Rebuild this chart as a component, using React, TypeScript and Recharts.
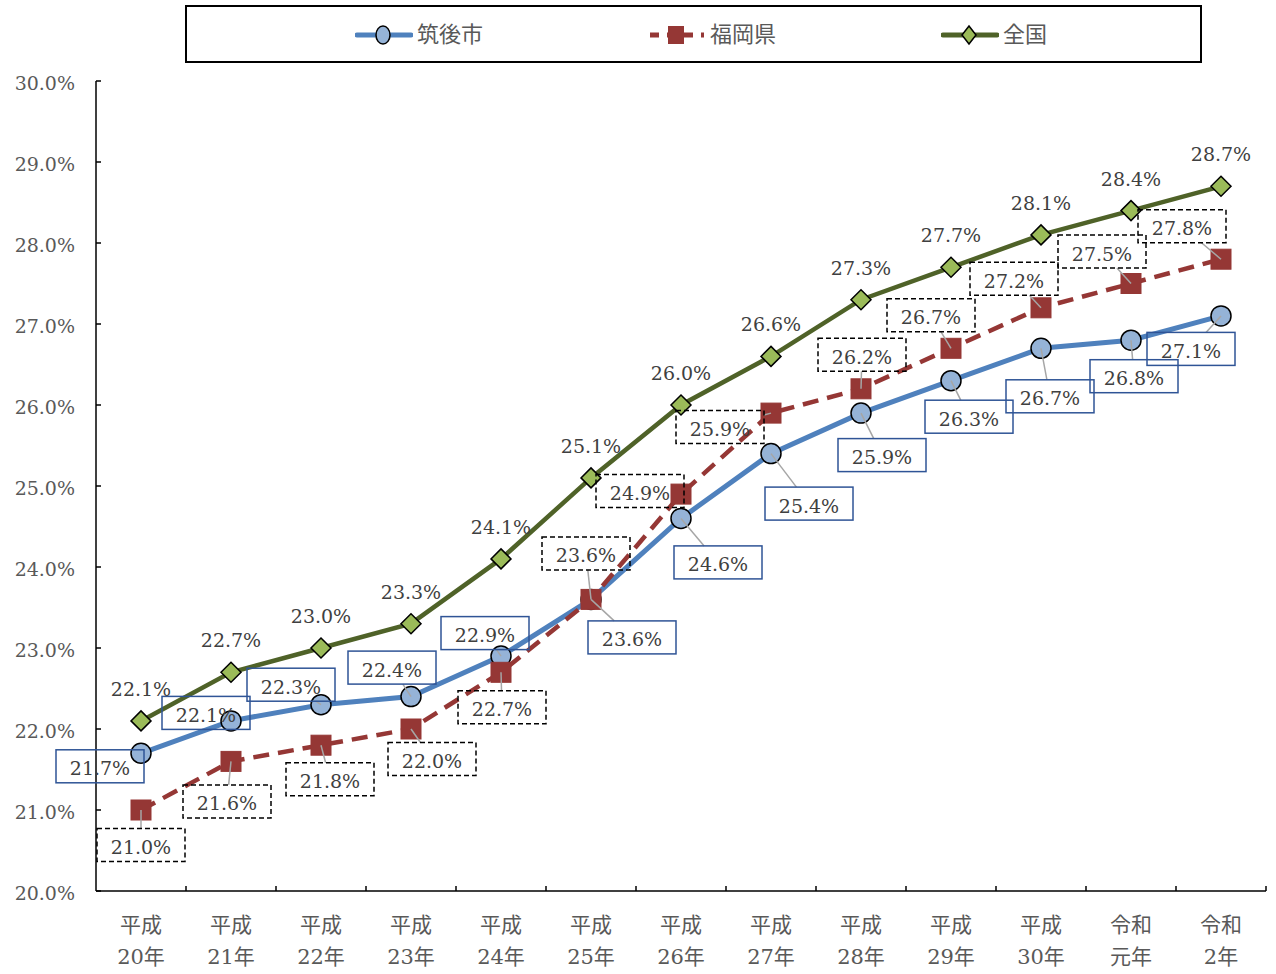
import { LabelList, Line, LineChart, XAxis, YAxis } from "recharts";

// 高齢化率の推移（筑後市・福岡県・全国）
const categories = [
  "平成20年", "平成21年", "平成22年", "平成23年", "平成24年", "平成25年", "平成26年",
  "平成27年", "平成28年", "平成29年", "平成30年", "令和元年", "令和2年",
];
const chikugoValues = [21.7, 22.1, 22.3, 22.4, 22.9, 23.6, 24.6, 25.4, 25.9, 26.3, 26.7, 26.8, 27.1];
const fukuokaValues = [21.0, 21.6, 21.8, 22.0, 22.7, 23.6, 24.9, 25.9, 26.2, 26.7, 27.2, 27.5, 27.8];
const nationalValues = [22.1, 22.7, 23.0, 23.3, 24.1, 25.1, 26.0, 26.6, 27.3, 27.7, 28.1, 28.4, 28.7];
const yTicks = [20, 21, 22, 23, 24, 25, 26, 27, 28, 29, 30];

const series = [
  { key: "chikugo", name: "筑後市", color: "#4f81bd" },
  { key: "fukuoka", name: "福岡県", color: "#953735" },
  { key: "national", name: "全国", color: "#4f6228" },
];

// where each data label box sits, relative to its point (Excel let these be dragged around)
const chikugoLabelOffsets = [
  [-41, 13], [-25, -8], [-30, -20], [-19, -29], [-16, -23], [41, 38], [37, 44],
  [38, 50], [21, 42], [18, 36], [9, 48], [3, 36], [-30, 33],
];
const fukuokaLabelOffsets = [
  [0, 35], [-4, 40], [9, 34], [21, 30], [1, 35], [-5, -46], [-41, -3],
  [-51, 14], [1, -34], [-20, -33], [-27, -29], [-29, -32], [-39, -33],
];

const data = categories.map((category, i) => ({
  category,
  chikugo: chikugoValues[i],
  fukuoka: fukuokaValues[i],
  national: nationalValues[i],
}));

const WIDTH = 1276;
const HEIGHT = 974;
const Y_AXIS_W = 96;
const RIGHT = 10;
const BAND = (WIDTH - Y_AXIS_W - RIGHT) / categories.length;
const FONT = '"DejaVu Serif", "Liberation Serif", "Noto Sans CJK JP", serif';
const LABEL_COLOR = "#404040";
const TICK_COLOR = "#595959";
const BOX_W = 88;
const BOX_H = 33;

const pct = (v: number) => `${v.toFixed(1)}%`;

function YTick({ x, y, payload }: any) {
  return (
    <g>
      <line x1={x} x2={x + 5} y1={y} y2={y} stroke="#000" strokeWidth={1.5} />
      <text
        x={x - 21}
        y={y + 2}
        textAnchor="end"
        dominantBaseline="central"
        fontSize={19}
        fontFamily={FONT}
        fill={TICK_COLOR}
      >
        {pct(payload.value)}
      </text>
    </g>
  );
}

function XTick({ x, y, payload }: any) {
  const label = String(payload.value);
  const edge = x + BAND / 2;
  return (
    <g>
      <line x1={edge} x2={edge} y1={y} y2={y - 5} stroke="#000" strokeWidth={1.5} />
      <text x={x} y={y + 34} textAnchor="middle" dominantBaseline="central" fontSize={21} fontFamily={FONT} fill={TICK_COLOR}>
        {label.slice(0, 2)}
      </text>
      <text x={x} y={y + 66} textAnchor="middle" dominantBaseline="central" fontSize={21} fontFamily={FONT} fill={TICK_COLOR}>
        {label.slice(2)}
      </text>
    </g>
  );
}

function SquareDot({ cx, cy, index }: any) {
  return <rect key={index} x={cx - 10} y={cy - 10} width={20} height={20} fill="#953735" stroke="#953735" strokeWidth={1} />;
}

function DiamondDot({ cx, cy, index }: any) {
  const r = 10;
  return (
    <polygon
      key={index}
      points={`${cx},${cy - r} ${cx + r},${cy} ${cx},${cy + r} ${cx - r},${cy}`}
      fill="#9bbb59"
      stroke="#000"
      strokeWidth={1.5}
    />
  );
}

// boxed label with a grey leader line back to its point when it has been pulled away
function BoxLabel({ x, y, value, index, offsets, dashed }: any) {
  const [dx, dy] = offsets[index];
  const cx = x + dx;
  const cy = y + dy;
  const hw = BOX_W / 2;
  const hh = BOX_H / 2;
  let leader = null;
  if (Math.abs(dx) > hw || Math.abs(dy) > hh) {
    const s = Math.min(Math.abs(dx) > 0 ? hw / Math.abs(dx) : Infinity, Math.abs(dy) > 0 ? hh / Math.abs(dy) : Infinity);
    leader = <line x1={cx - dx * s} y1={cy - dy * s} x2={x} y2={y} stroke="#a6a6a6" strokeWidth={1.5} />;
  }
  return (
    <g>
      {leader}
      <rect
        x={cx - hw}
        y={cy - hh}
        width={BOX_W}
        height={BOX_H}
        fill="none"
        stroke={dashed ? "#000" : "#2f5496"}
        strokeWidth={1.5}
        strokeDasharray={dashed ? "5 3" : undefined}
      />
      <text x={cx} y={cy + 2} textAnchor="middle" dominantBaseline="central" fontSize={19} fontFamily={FONT} fill={LABEL_COLOR}>
        {pct(value)}
      </text>
    </g>
  );
}

function PlainLabel({ x, y, value }: any) {
  return (
    <text x={x} y={y - 32} textAnchor="middle" dominantBaseline="central" fontSize={19} fontFamily={FONT} fill={LABEL_COLOR}>
      {pct(value)}
    </text>
  );
}

function LegendMarker({ kind, color }: { kind: string; color: string }) {
  return (
    <svg width={58} height={24} style={{ display: "block" }}>
      {kind === "fukuoka" ? (
        <line x1={2} x2={56} y1={12} y2={12} stroke={color} strokeWidth={5} strokeDasharray="9 8" />
      ) : (
        <line x1={2} x2={56} y1={12} y2={12} stroke={color} strokeWidth={5} strokeLinecap="round" />
      )}
      {kind === "chikugo" && <ellipse cx={28} cy={12} rx={7} ry={9} fill="#95b3d7" stroke="#000" strokeWidth={1.5} />}
      {kind === "fukuoka" && <rect x={20} y={3} width={16} height={18} fill={color} />}
      {kind === "national" && (
        <polygon points="28,3 35,12 28,21 21,12" fill="#9bbb59" stroke="#000" strokeWidth={1.5} />
      )}
    </svg>
  );
}

function ChartLegend() {
  return (
    <div
      style={{
        position: "absolute",
        left: 185,
        top: 5,
        width: 1013,
        height: 54,
        border: "2px solid #000",
        background: "#fff",
      }}
    >
      {series.map((s, i) => (
        <div
          key={s.key}
          style={{
            position: "absolute",
            left: 168 + i * 293,
            top: 16,
            display: "flex",
            alignItems: "center",
            gap: 4,
          }}
        >
          <LegendMarker kind={s.key} color={s.color} />
          <span style={{ fontSize: 22, color: TICK_COLOR, fontFamily: FONT, lineHeight: "24px" }}>{s.name}</span>
        </div>
      ))}
    </div>
  );
}

export default function App() {
  return (
    <div style={{ position: "absolute", left: 0, top: 0, width: WIDTH, height: HEIGHT, background: "#fff", fontFamily: FONT }}>
      <LineChart width={WIDTH} height={HEIGHT} data={data} margin={{ top: 81, right: RIGHT, bottom: 0, left: 0 }}>
        <XAxis
          dataKey="category"
          padding={{ left: BAND / 2, right: BAND / 2 }}
          height={83}
          interval={0}
          tickSize={0}
          tickMargin={0}
          tickLine={false}
          axisLine={{ stroke: "#000", strokeWidth: 1.5 }}
          tick={<XTick />}
        />
        <YAxis
          domain={[20, 30]}
          ticks={yTicks}
          width={Y_AXIS_W}
          interval={0}
          tickSize={0}
          tickMargin={0}
          tickLine={false}
          axisLine={{ stroke: "#000", strokeWidth: 1.5 }}
          tick={<YTick />}
        />
        <Line
          dataKey="chikugo"
          name="筑後市"
          stroke="#4f81bd"
          strokeWidth={5}
          dot={{ r: 10, fill: "#95b3d7", stroke: "#000", strokeWidth: 1.5 }}
          activeDot={false}
          isAnimationActive={false}
        />
        <Line
          dataKey="fukuoka"
          name="福岡県"
          stroke="#953735"
          strokeWidth={4.5}
          strokeDasharray="16 9"
          dot={<SquareDot />}
          activeDot={false}
          isAnimationActive={false}
        />
        <Line
          dataKey="national"
          name="全国"
          stroke="#4f6228"
          strokeWidth={4.5}
          dot={<DiamondDot />}
          activeDot={false}
          isAnimationActive={false}
        />
        {/* label-only passes so every label sits above every line */}
        <Line dataKey="chikugo" stroke="none" dot={false} activeDot={false} legendType="none" isAnimationActive={false}>
          <LabelList dataKey="chikugo" content={(p: any) => <BoxLabel {...p} offsets={chikugoLabelOffsets} />} />
        </Line>
        <Line dataKey="fukuoka" stroke="none" dot={false} activeDot={false} legendType="none" isAnimationActive={false}>
          <LabelList dataKey="fukuoka" content={(p: any) => <BoxLabel {...p} offsets={fukuokaLabelOffsets} dashed />} />
        </Line>
        <Line dataKey="national" stroke="none" dot={false} activeDot={false} legendType="none" isAnimationActive={false}>
          <LabelList dataKey="national" content={(p: any) => <PlainLabel {...p} />} />
        </Line>
      </LineChart>
      <ChartLegend />
    </div>
  );
}
